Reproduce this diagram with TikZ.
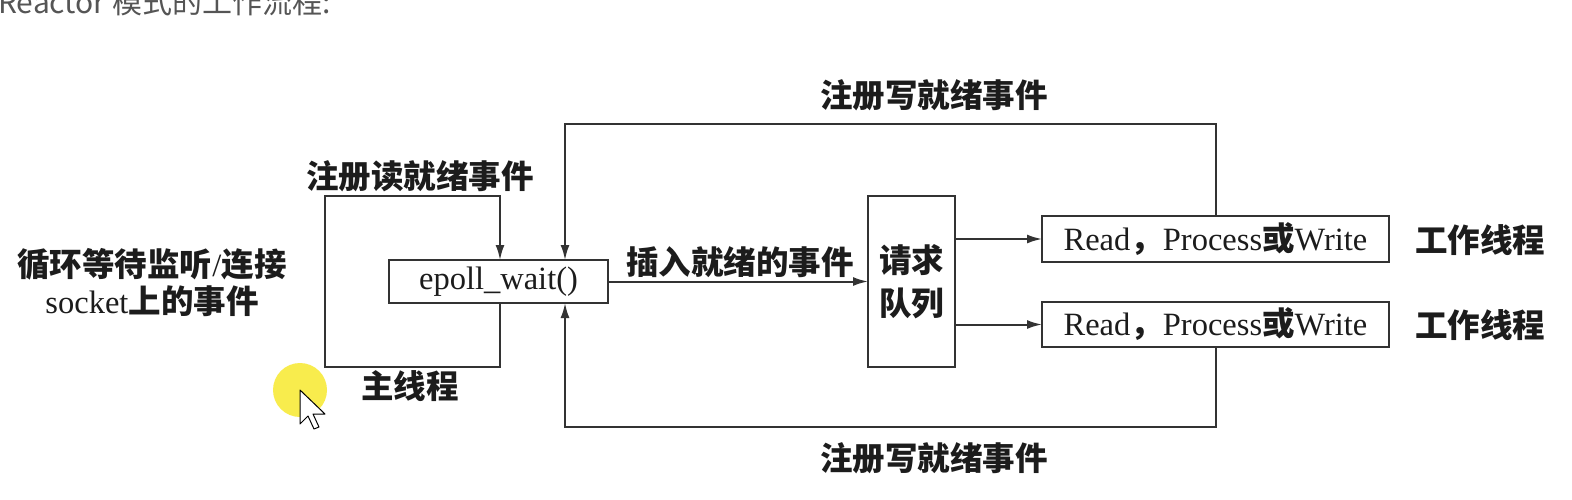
\documentclass[tikz,border=0pt]{standalone}
\usepackage{fontspec}
\setmainfont{Liberation Serif}
\newfontfamily\cjk{Noto Sans CJK SC}
\usetikzlibrary{arrows.meta}
\newcommand{\zh}[1]{{\cjk\bfseries #1}}
\definecolor{linec}{HTML}{333333}
\definecolor{textc}{HTML}{1C1C1C}
\definecolor{titlec}{HTML}{555555}
\definecolor{hilite}{HTML}{F8EA3A}
\begin{document}
\begin{tikzpicture}[x=1pt,y=-1pt,
  box/.style={draw=linec, line width=2pt, inner sep=0pt, outer sep=0pt, text=textc, font=\fontsize{32.5}{38}\selectfont},
  conn/.style={draw=linec, line width=2pt},
  arr/.style={conn, -{Latex[length=15pt,width=9pt]}},
  lab/.style={text=textc, font=\fontsize{32.5}{38}\selectfont, inner sep=0pt, align=center},
]
\fill[white] (0,0) rectangle (1572,499);
\useasboundingbox (0,0) rectangle (1572,499);

% title (cut off at the top, as in the reference)
\node[anchor=base west, inner sep=0pt, text=titlec, font=\cjk\fontsize{30}{36}\selectfont] (title) at (-2,13) {Reactor 模式的工作流程:};

% boxes
\node[box, minimum width=219pt, minimum height=43pt] (epoll) at (498.5,281.5) {epoll\_wait()};
\node[box, minimum width=87pt, minimum height=171pt, align=center, font=\fontsize{32.5}{43}\selectfont] (queue) at (911.5,281.5) {\zh{请求}\\\zh{队列}};
\node[box, minimum width=347pt, minimum height=46pt] (read1) at (1215.5,239) {Read\zh{，}Process\zh{或}Write};
\node[box, minimum width=347pt, minimum height=45pt] (read2) at (1215.5,324.5) {Read\zh{，}Process\zh{或}Write};

% helper coordinates
\coordinate (xl) at (500,0);
\coordinate (xm) at (565,0);
\coordinate (ll) at (325,367);
\coordinate (lt) at (500,196);
\coordinate (tl) at (565,124);
\coordinate (bl) at (565,427);

% left loop (main thread)
\draw[arr] (epoll.south -| xl) |- (ll) |- (lt) -- (epoll.north -| xl);
% top loop
\draw[arr] (read1.north) |- (tl) -- (epoll.north -| xm);
% bottom loop
\draw[arr] (read2.south) |- (bl) -- (epoll.south -| xm);
% insert into queue
\draw[arr] (epoll.east) -- (queue.west);
% queue to workers
\draw[arr] (queue.east |- read1.west) -- (read1.west);
\draw[arr] (queue.east |- read2.west) -- (read2.west);

% labels
\node[lab] (lread) at (420,176) {\zh{注册读就绪事件}};
\node[lab] (lmain) at (410,386) {\zh{主线程}};
\node[lab] (lins) at (740,262) {\zh{插入就绪的事件}};
\node[lab] (ltop) at (934,95) {\zh{注册写就绪事件}};
\node[lab] (lbot) at (934,458) {\zh{注册写就绪事件}};
\node[lab] (lw1) at (1480,240) {\zh{工作线程}};
\node[lab] (lw2) at (1480,325) {\zh{工作线程}};
\node[lab, font=\fontsize{32.5}{37}\selectfont] (lleft) at (152,283) {\zh{循环等待监听}/\zh{连接}\\socket\zh{上的事件}};

% cursor highlight
\fill[hilite, opacity=0.9] (300,390) circle (27);
\draw[fill=white, draw=black, line width=1pt, line join=round]
  (300,390) -- ++(0,34) -- ++(8,-8) -- ++(6,13) -- ++(5,-2) -- ++(-6,-13) -- ++(12,0) -- cycle;
\end{tikzpicture}
\end{document}
